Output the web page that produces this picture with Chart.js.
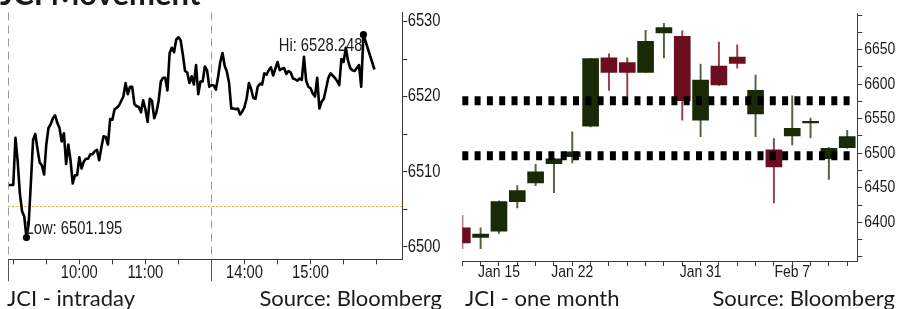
<!DOCTYPE html>
<html>
<head>
<meta charset="utf-8">
<script src="https://cdn.jsdelivr.net/npm/chart.js@4/dist/chart.umd.min.js"></script>
<style>
  html, body { margin: 0; padding: 0; background: #fff; }
  #marco { position: relative; width: 897px; height: 309px; overflow: hidden; }
  canvas { position: absolute; top: 0; }
</style>
</head>
<body>
<div id="marco">
  <canvas id="graficaIntradia" width="450" height="309" style="left:0"></canvas>
  <canvas id="graficaMes" width="447" height="309" style="left:450px"></canvas>
</div>
<script>
// ════════════════════════════════════════
//  Datos
// ════════════════════════════════════════

// Intradía: un valor cada 2 minutos, sesión mañana y tarde
const amStart = "08:56";
const pmStart = "13:30";
const stepMin = 2;
const sessionBreak = "12:00";

const intradayAM = [
  6508.2, 6508.2, 6508.2, 6514.5, 6511.4, 6507.1, 6504.7, 6504.0, 6501.195, 6503.0,
  6508.5, 6514.2, 6515.0, 6513.0, 6511.2, 6510.8, 6509.6, 6513.6, 6515.8, 6516.3,
  6517.1, 6517.5, 6516.5, 6515.8, 6514.0, 6515.1, 6511.0, 6513.6, 6511.5, 6508.4,
  6509.5, 6509.5, 6511.9, 6510.4, 6511.3, 6511.7, 6511.7, 6512.3, 6512.3, 6512.7,
  6512.9, 6511.5, 6513.2, 6514.7, 6514.6, 6513.6, 6517.0, 6516.9, 6518.3, 6518.5,
  6518.8, 6519.4, 6520.0, 6521.8, 6520.3, 6521.3, 6521.3, 6519.0, 6518.7, 6518.6,
  6517.9, 6519.5, 6518.3, 6516.6, 6519.7, 6519.4, 6517.1, 6517.9, 6519.4, 6522.0,
  6522.5, 6522.5, 6520.8, 6525.8, 6526.5, 6525.9, 6527.6, 6527.9, 6527.5, 6525.6,
  6523.4, 6523.2, 6521.8, 6522.7, 6521.6, 6524.2, 6520.3, 6522.0, 6522.0, 6524.0,
  6523.5, 6521.3
];

const intradayPM = [
  6521.5, 6521.5, 6520.9, 6522.6, 6524.6, 6525.8, 6524.1, 6523.3, 6521.8, 6518.4,
  6518.4, 6518.3, 6518.4, 6517.6, 6518.0, 6518.6, 6519.8, 6521.8, 6521.0, 6519.8,
  6519.7, 6521.3, 6521.7, 6521.6, 6523.1, 6522.9, 6523.5, 6523.9, 6522.8, 6523.7,
  6524.6, 6523.5, 6523.7, 6523.8, 6523.0, 6523.4, 6523.2, 6522.4, 6522.3, 6522.1,
  6522.4, 6522.2, 6525.3, 6522.1, 6521.3, 6521.1, 6520.4, 6520.0, 6522.5, 6518.4,
  6519.3, 6519.7, 6521.0, 6522.4, 6523.1, 6522.8, 6522.5, 6522.1, 6521.5, 6525.0,
  6524.6, 6526.5, 6524.8, 6523.8, 6523.5, 6523.4, 6523.8, 6524.2, 6521.3, 6528.248,
  null, null, null, null, 6523.6
];

const prevClose = 6505.4;

const timeTicks = ["09:00", "09:30", "10:00", "10:30", "11:00", "11:30",
                   "14:00", "14:30", "15:00", "15:30", "16:00"];
const timeLabels = ["10:00", "11:00", "14:00", "15:00"];
const levelTicks = [6500, 6505, 6510, 6515, 6520, 6525, 6530];
const levelLabels = [6500, 6510, 6520, 6530];

// Un mes: velas diarias
const monthDates = ["Jan 11", "Jan 14", "Jan 15", "Jan 16", "Jan 17", "Jan 18", "Jan 22",
  "Jan 23", "Jan 24", "Jan 25", "Jan 28", "Jan 29", "Jan 30", "Jan 31", "Feb 1", "Feb 4",
  "Feb 5", "Feb 6", "Feb 7", "Feb 8", "Feb 11", "Feb 12"];
const monthLabels = ["Jan 15", "Jan 22", "Jan 31", "Feb 7"];

const openV  = [6392, 6378, 6387, 6430, 6457, 6485, 6495, 6539, 6638, 6631, 6617,
                6674, 6669, 6548, 6626, 6639, 6557, 6505, 6525, 6544, 6492, 6508];
const highV  = [6410, 6392, 6431, 6453, 6484, 6493, 6531, 6637, 6644, 6638, 6678,
                6688, 6677, 6629, 6661, 6657, 6613, 6521, 6583, 6551, 6508, 6533];
const lowV   = [6362, 6362, 6384, 6421, 6453, 6443, 6486, 6538, 6591, 6583, 6617,
                6638, 6548, 6524, 6598, 6623, 6524, 6428, 6512, 6522, 6462, 6507];
const closeV = [6370, 6383, 6430, 6446, 6473, 6492, 6502, 6637, 6617, 6617, 6662,
                6682, 6576, 6606, 6599, 6630, 6591, 6480, 6536, 6546, 6507, 6524];

const monthTicks = [6350, 6375, 6400, 6425, 6450, 6475, 6500, 6525, 6550, 6575,
                    6600, 6625, 6650, 6675, 6700];
const monthTickLabels = [6400, 6450, 6500, 6550, 6600, 6650];
const supportLevels = [6576, 6496.5];


// ════════════════════════════════════════
//  Estilos
// ════════════════════════════════════════

const fuenteEje = "'Liberation Sans', Arial, sans-serif";
const fuenteTexto = "Lato, 'Open Sans', sans-serif";
const estrecho = 0.82;   // la fuente original es condensada
const colorEje = "#3a3a3a";
const colorTexto = "#1a1a1a";
const colorVerde = "#1b2a06";
const colorRojo = "#6c0e1f";
const colorMechaVerde = "#55613f";
const colorMechaRoja = "#93404f";


// ════════════════════════════════════════
//  Utilidades
// ════════════════════════════════════════

function aMinutos(hhmm) {
  const [h, m] = hhmm.split(":").map(Number);
  return h * 60 + m;
}

// eje comprimido: la pausa del mediodía no ocupa espacio
function minutosSesion(hhmm) {
  const t = aMinutos(hhmm);
  return t < 12 * 60 + 30 ? t - 9 * 60 : 180 + (t - (13 * 60 + 30));
}

function sumarMin(hhmm, n) {
  const t = aMinutos(hhmm) + n;
  const h = Math.floor(t / 60), m = t % 60;
  return String(h).padStart(2, "0") + ":" + String(m).padStart(2, "0");
}

// texto condensado (no hay fuente narrow instalada)
function textoEstrecho(ctx, texto, x, y, alinear, tam) {
  ctx.save();
  ctx.fillStyle = colorTexto;
  ctx.font = tam + "px " + fuenteEje;
  ctx.textAlign = alinear;
  ctx.textBaseline = "middle";
  ctx.translate(x, y);
  ctx.scale(estrecho, 1);
  ctx.fillText(texto, 0, 0);
  ctx.restore();
}

// etiquetas de los ejes dibujadas desde las escalas de Chart.js
function dibujarEtiquetas(chart, cfg) {
  const { ctx, scales: { x, y } } = chart;
  x.ticks.forEach(t => {
    const txt = cfg.textoX(t.value);
    if (txt) textoEstrecho(ctx, txt, x.getPixelForValue(t.value), x.top + cfg.dyX, "center", cfg.tam);
  });
  y.ticks.forEach(t => {
    const txt = cfg.textoY(t.value);
    if (txt) textoEstrecho(ctx, txt, y.left + cfg.dxY, y.getPixelForValue(t.value), "left", cfg.tam);
  });
}


// ════════════════════════════════════════
//  Gráfica 1: intradía (línea)
// ════════════════════════════════════════

const puntos = [];
intradayAM.forEach((v, i) => puntos.push({ x: minutosSesion(sumarMin(amStart, i * stepMin)), y: v }));
intradayPM.forEach((v, i) => puntos.push({ x: minutosSesion(sumarMin(pmStart, i * stepMin)), y: v }));

let iHi = 0, iLo = 0;
puntos.forEach((p, i) => {
  if (p.y === null) return;
  if (p.y > puntos[iHi].y) iHi = i;
  if (p.y < puntos[iLo].y) iLo = i;
});

const pluginIntradia = {
  id: "extrasIntradia",
  beforeDatasetsDraw(chart) {
    const { ctx, chartArea: a, scales: { x, y } } = chart;
    ctx.save();
    // cierre anterior (línea punteada naranja)
    const yPrev = y.getPixelForValue(prevClose);
    ctx.strokeStyle = "#f29d1e";
    ctx.lineWidth = 1;
    ctx.setLineDash([2, 2]);
    ctx.beginPath();
    ctx.moveTo(a.left, Math.round(yPrev) + 0.5);
    ctx.lineTo(a.right, Math.round(yPrev) + 0.5);
    ctx.stroke();
    // separadores de sesión
    const xs = [a.left, x.getPixelForValue(minutosSesion(sessionBreak))];
    ctx.strokeStyle = "#9a9a9a";
    ctx.setLineDash([8, 5]);
    xs.forEach(px => {
      ctx.beginPath();
      ctx.moveTo(Math.round(px) + 0.5, a.top);
      ctx.lineTo(Math.round(px) + 0.5, a.bottom);
      ctx.stroke();
    });
    ctx.setLineDash([]);
    ctx.strokeStyle = "#555";
    xs.forEach(px => {
      ctx.beginPath();
      ctx.moveTo(Math.round(px) + 0.5, a.bottom);
      ctx.lineTo(Math.round(px) + 0.5, a.bottom + 22);
      ctx.stroke();
    });
    ctx.restore();
  },
  afterDatasetsDraw(chart) {
    const { ctx, scales: { x, y } } = chart;
    const hi = puntos[iHi], lo = puntos[iLo];
    const hx = x.getPixelForValue(hi.x), hy = y.getPixelForValue(hi.y);
    textoEstrecho(ctx, "Hi: " + hi.y.toFixed(3), hx - 1, hy + 11, "right", 18);
    const lx = x.getPixelForValue(lo.x), ly = y.getPixelForValue(lo.y);
    textoEstrecho(ctx, "Low: " + lo.y.toFixed(3), lx - 1, ly - 9, "left", 18);
  },
  afterDraw(chart) {
    dibujarEtiquetas(chart, {
      tam: 18, dyX: 13.5, dxY: 5.4,
      textoX: v => {
        const t = timeTicks.find(tt => minutosSesion(tt) === v);
        return timeLabels.includes(t) ? t : "";
      },
      textoY: v => levelLabels.includes(v) ? String(v) : ""
    });
    const ctx = chart.ctx;
    ctx.save();
    ctx.fillStyle = colorTexto;
    ctx.textBaseline = "alphabetic";
    ctx.font = "bold 31px " + fuenteTexto;
    ctx.textAlign = "left";
    ctx.fillText("JCI Movement", 0, 5);
    ctx.font = "22px " + fuenteTexto;
    ctx.fillText("JCI - intraday", 7, 306);
    ctx.textAlign = "right";
    ctx.fillText("Source: Bloomberg", 442, 306);
    ctx.restore();
  }
};

new Chart(document.getElementById("graficaIntradia"), {
  type: "line",
  data: {
    datasets: [{
      data: puntos,
      borderColor: "#000",
      borderWidth: 2.6,
      borderJoinStyle: "round",
      tension: 0,
      spanGaps: true,
      clip: false,
      pointRadius: c => (c.dataIndex === iHi || c.dataIndex === iLo) ? 3.6 : 0,
      pointBackgroundColor: "#000",
      pointBorderWidth: 0
    }]
  },
  options: {
    responsive: false,
    animation: false,
    devicePixelRatio: 1,
    events: [],
    layout: { padding: { left: 8.3, top: 12.5, right: 0, bottom: 19 } },
    plugins: { legend: { display: false }, tooltip: { enabled: false } },
    scales: {
      x: {
        type: "linear",
        min: -4.5,
        max: 353.3,
        grid: { drawOnChartArea: false, tickLength: 5, color: colorEje },
        border: { color: colorEje },
        afterBuildTicks: s => { s.ticks = timeTicks.map(t => ({ value: minutosSesion(t) })); },
        afterFit: s => { s.height = 30.7; },
        ticks: { display: false }
      },
      y: {
        position: "right",
        min: 6498.3,
        max: 6531.2,
        grid: { drawOnChartArea: false, tickLength: 5, color: colorEje },
        border: { color: colorEje },
        afterBuildTicks: s => { s.ticks = levelTicks.map(v => ({ value: v })); },
        afterFit: s => { s.width = 47.7; },
        ticks: { display: false }
      }
    }
  },
  plugins: [pluginIntradia]
});


// ════════════════════════════════════════
//  Gráfica 2: un mes (velas)
// ════════════════════════════════════════

const cuerpos = openV.map((o, i) => ({ x: i, y: [o, closeV[i]] }));
const mechas = lowV.map((l, i) => ({ x: i, y: [l, highV[i]] }));
const subio = openV.map((o, i) => closeV[i] >= o);
const coloresVela = subio.map(s => s ? colorVerde : colorRojo);
const coloresMecha = subio.map(s => s ? colorMechaVerde : colorMechaRoja);

const pluginMes = {
  id: "extrasMes",
  afterDatasetsDraw(chart) {
    const { ctx, chartArea: a, scales: { y } } = chart;
    ctx.save();
    ctx.strokeStyle = "#000";
    ctx.lineWidth = 9;
    ctx.setLineDash([6, 6.3]);
    supportLevels.forEach(v => {
      const py = y.getPixelForValue(v);
      ctx.beginPath();
      ctx.moveTo(a.left, py);
      ctx.lineTo(a.right - 2, py);
      ctx.stroke();
    });
    ctx.restore();
  },
  afterDraw(chart) {
    dibujarEtiquetas(chart, {
      tam: 17, dyX: 11.5, dxY: 7,
      textoX: v => monthLabels.includes(monthDates[v]) ? monthDates[v] : "",
      textoY: v => monthTickLabels.includes(v) ? String(v) : ""
    });
    const ctx = chart.ctx;
    ctx.save();
    ctx.fillStyle = colorTexto;
    ctx.textBaseline = "alphabetic";
    ctx.font = "22px " + fuenteTexto;
    ctx.textAlign = "left";
    ctx.fillText("JCI - one month", 15, 306);
    ctx.textAlign = "right";
    ctx.fillText("Source: Bloomberg", 445, 306);
    ctx.restore();
  }
};

new Chart(document.getElementById("graficaMes"), {
  type: "bar",
  data: {
    datasets: [
      {
        data: cuerpos,
        backgroundColor: coloresVela,
        barThickness: 16,
        grouped: false,
        clip: 0,
        order: 0
      },
      {
        data: mechas,
        backgroundColor: coloresMecha,
        barThickness: 1.3,
        grouped: false,
        clip: 0,
        order: 1
      }
    ]
  },
  options: {
    responsive: false,
    animation: false,
    devicePixelRatio: 1,
    events: [],
    layout: { padding: { left: 12.3, top: 13.3, right: 0, bottom: 19 } },
    plugins: { legend: { display: false }, tooltip: { enabled: false } },
    scales: {
      x: {
        type: "linear",
        min: 0,
        max: 21.55,
        offset: false,
        grid: { drawOnChartArea: false, offset: false, tickLength: 5, color: colorEje },
        border: { color: colorEje },
        afterBuildTicks: s => { s.ticks = monthDates.map((d, i) => ({ value: i })); },
        afterFit: s => { s.height = 29; },
        ticks: { display: false }
      },
      y: {
        position: "right",
        min: 6344,
        max: 6702.5,
        beginAtZero: false,
        grid: { drawOnChartArea: false, tickLength: 5, color: colorEje },
        border: { color: colorEje },
        afterBuildTicks: s => { s.ticks = monthTicks.map(v => ({ value: v })); },
        afterFit: s => { s.width = 39.7; },
        ticks: { display: false }
      }
    }
  },
  plugins: [pluginMes]
});
</script>
</body>
</html>
